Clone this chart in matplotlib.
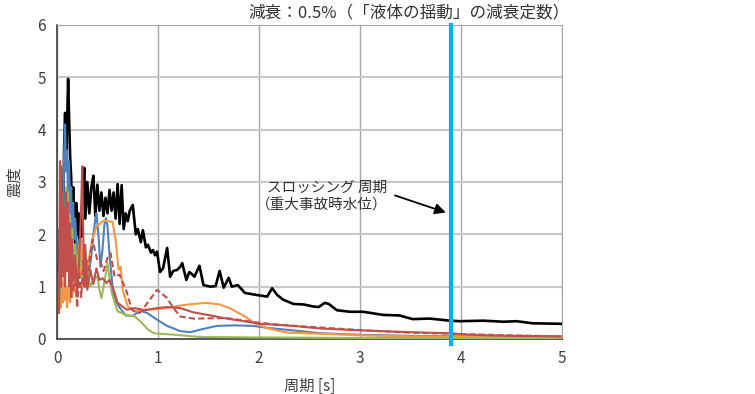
import numpy as np
import matplotlib.pyplot as plt

plt.rcParams['font.family'] = ['Noto Sans CJK JP', 'DejaVu Sans']

# ---- response spectra (period [s] vs. seismic coefficient) ----
black_T = [0.02, 0.03, 0.04, 0.05, 0.06, 0.07, 0.08, 0.09, 0.10, 0.11, 0.12, 0.13, 0.14, 0.15,
           0.16, 0.17, 0.18, 0.19, 0.20, 0.21, 0.22, 0.23, 0.24, 0.25, 0.26, 0.27, 0.28, 0.30,
           0.32, 0.34, 0.36, 0.38, 0.40, 0.42, 0.44, 0.46, 0.48, 0.50, 0.52, 0.54, 0.56, 0.58,
           0.60, 0.62, 0.64, 0.66, 0.68, 0.70, 0.72, 0.75, 0.78, 0.80, 0.83, 0.85, 0.88, 0.90,
           0.93, 0.95, 0.97, 0.99, 1.02, 1.05, 1.09, 1.12, 1.15, 1.19, 1.22, 1.24, 1.28, 1.31,
           1.33, 1.36, 1.41, 1.45, 1.52, 1.57, 1.61, 1.65, 1.70, 1.73, 1.79, 1.86, 1.98, 2.08,
           2.13, 2.18, 2.24, 2.34, 2.44, 2.54, 2.59, 2.65, 2.69, 2.77, 2.90, 3.03, 3.23, 3.39,
           3.52, 3.69, 3.89, 3.99, 4.22, 4.42, 4.55, 4.71, 5.00]
black_S = [1.30, 2.10, 1.60, 2.60, 2.20, 3.60, 4.32, 3.50, 4.10, 4.97, 4.20, 3.48, 3.10, 2.20,
           2.90, 2.00, 1.84, 2.60, 2.00, 2.41, 1.80, 2.30, 1.95, 2.60, 3.00, 3.27, 2.30, 3.00,
           2.40, 2.90, 3.12, 2.35, 2.95, 2.45, 2.80, 2.35, 2.70, 2.40, 2.85, 2.45, 2.80, 2.30,
           2.96, 2.20, 2.94, 2.10, 2.40, 2.25, 2.45, 2.56, 2.00, 2.10, 1.85, 2.08, 1.75, 1.80,
           1.65, 1.70, 1.60, 1.67, 1.28, 1.35, 1.74, 1.19, 1.30, 1.32, 1.38, 1.45, 1.13, 1.28,
           1.25, 1.19, 1.40, 1.03, 1.00, 1.01, 1.30, 0.98, 1.17, 1.00, 1.03, 0.88, 0.84, 0.81,
           0.97, 0.84, 0.75, 0.67, 0.66, 0.62, 0.61, 0.69, 0.67, 0.55, 0.52, 0.52, 0.46, 0.45,
           0.38, 0.39, 0.35, 0.34, 0.35, 0.33, 0.34, 0.30, 0.29]

blue_T = [0.02, 0.03, 0.04, 0.05, 0.06, 0.07, 0.08, 0.09, 0.10, 0.11, 0.12, 0.13, 0.14, 0.15,
          0.16, 0.17, 0.18, 0.20, 0.22, 0.24, 0.26, 0.28, 0.30, 0.32, 0.34, 0.36, 0.38, 0.39,
          0.41, 0.43, 0.45, 0.47, 0.485, 0.50, 0.52, 0.55, 0.57, 0.62, 0.68, 0.75, 0.82, 0.89,
          0.99, 1.09, 1.22, 1.32, 1.42, 1.58, 1.75, 1.94, 2.10, 2.41, 2.61, 3.0, 3.5, 4.0, 4.5, 5.0]
blue_S = [1.0, 1.8, 1.3, 2.2, 1.8, 3.5, 4.10, 3.2, 3.6, 2.6, 3.4, 2.4, 2.9, 2.1,
          2.6, 1.9, 2.3, 1.6, 1.9, 1.4, 1.7, 1.2, 1.5, 1.3, 1.6, 2.0, 2.3, 2.40,
          2.0, 1.38, 1.7, 2.2, 2.31, 2.15, 1.6, 1.0, 0.75, 0.60, 0.45, 0.44, 0.54, 0.50,
          0.37, 0.25, 0.15, 0.13, 0.18, 0.25, 0.26, 0.25, 0.21, 0.15, 0.11, 0.08, 0.06, 0.05, 0.05, 0.04]

orange_T = [0.02, 0.03, 0.04, 0.05, 0.06, 0.07, 0.08, 0.09, 0.10, 0.11, 0.12, 0.13, 0.14, 0.15,
            0.16, 0.17, 0.18, 0.19, 0.20, 0.21, 0.22, 0.23, 0.24, 0.25, 0.26, 0.27, 0.28, 0.30,
            0.32, 0.35, 0.39, 0.46, 0.50, 0.55, 0.58, 0.61, 0.63, 0.65, 0.70, 0.77, 0.87, 0.99,
            1.09, 1.22, 1.35, 1.48, 1.61, 1.72, 1.86, 1.96, 2.09, 2.29, 2.61, 3.0, 3.5, 4.0, 4.5, 5.0]
orange_S = [0.5, 0.9, 0.6, 1.1, 0.7, 1.2, 0.75, 1.0, 0.6, 0.9, 1.1, 0.7, 1.2, 0.8,
            1.5, 0.9, 1.3, 0.8, 1.6, 1.0, 1.8, 1.2, 1.9, 1.0, 1.7, 1.2, 1.45, 1.13,
            1.6, 1.9, 2.15, 2.26, 2.25, 2.24, 1.89, 1.32, 1.38, 0.94, 0.62, 0.53, 0.56, 0.57,
            0.59, 0.64, 0.67, 0.69, 0.66, 0.58, 0.43, 0.30, 0.20, 0.12, 0.10, 0.07, 0.05, 0.04, 0.03, 0.03]

green_T = [0.02, 0.03, 0.04, 0.05, 0.06, 0.07, 0.08, 0.09, 0.10, 0.11, 0.12, 0.13, 0.14, 0.15,
           0.16, 0.18, 0.20, 0.22, 0.24, 0.26, 0.28, 0.30, 0.33, 0.36, 0.40, 0.42, 0.44, 0.47,
           0.50, 0.51, 0.54, 0.57, 0.60, 0.68, 0.77, 0.84, 0.90, 0.96, 1.10, 1.24, 1.40, 2.0,
           3.0, 4.0, 5.0]
green_S = [0.7, 1.2, 0.9, 1.8, 1.3, 2.4, 2.0, 2.9, 2.3, 2.8, 2.0, 2.3, 1.6, 2.1,
           1.4, 1.8, 1.2, 1.6, 1.45, 1.1, 1.07, 1.3, 1.0, 1.13, 1.2, 0.94, 0.78, 1.1,
           1.45, 1.29, 0.9, 0.7, 0.53, 0.46, 0.43, 0.31, 0.18, 0.11, 0.09, 0.07, 0.04, 0.03,
           0.02, 0.02, 0.02]

red_T = [0.02, 0.03, 0.04, 0.05, 0.06, 0.07, 0.08, 0.09, 0.10, 0.11, 0.12, 0.13, 0.14, 0.15,
         0.16, 0.18, 0.20, 0.22, 0.24, 0.25, 0.26, 0.27, 0.28, 0.30, 0.33, 0.36, 0.39, 0.42,
         0.45, 0.49, 0.52, 0.56, 0.60, 0.69, 0.77, 0.87, 0.99, 1.09, 1.22, 1.35, 1.52, 1.68,
         1.85, 2.01, 2.34, 2.61, 3.07, 3.50, 3.88, 4.10, 4.50, 5.0]
red_S = [0.5, 3.4, 1.0, 2.8, 1.2, 2.5, 1.0, 2.8, 1.3, 2.6, 1.0, 2.2, 0.8, 1.9,
         1.1, 1.6, 0.9, 1.5, 2.6, 3.3, 2.0, 1.0, 1.8, 0.94, 1.32, 1.05, 1.35, 1.13,
         1.16, 1.07, 1.13, 0.94, 0.69, 0.56, 0.59, 0.55, 0.59, 0.61, 0.59, 0.51, 0.45, 0.39,
         0.34, 0.29, 0.25, 0.20, 0.16, 0.13, 0.11, 0.08, 0.06, 0.05]

redd_T = [0.02, 0.03, 0.04, 0.05, 0.06, 0.08, 0.10, 0.12, 0.14, 0.16, 0.18, 0.20, 0.22, 0.24,
          0.26, 0.28, 0.30, 0.35, 0.40, 0.43, 0.46, 0.50, 0.53, 0.57, 0.62, 0.69, 0.74, 0.79,
          0.82, 0.90, 0.99, 1.08, 1.17, 1.22, 1.35, 1.68, 1.96, 2.16, 2.43, 2.61, 3.0, 3.5,
          3.9, 4.5, 5.0]
redd_S = [0.6, 2.0, 3.3, 1.2, 2.6, 1.2, 2.2, 1.4, 1.8, 0.9, 1.3, 0.6, 1.3, 0.8,
          1.5, 1.0, 1.2, 1.9, 1.5, 1.47, 1.3, 1.55, 1.64, 1.19, 1.23, 0.90, 0.56, 0.50,
          0.50, 0.70, 0.94, 0.80, 0.55, 0.43, 0.39, 0.40, 0.32, 0.28, 0.24, 0.22, 0.17, 0.12,
          0.10, 0.07, 0.05]

slosh_T = 3.9   # sloshing period at severe-accident water level

fig = plt.figure(figsize=(7.55, 3.94), dpi=100)
ax = fig.add_axes([0.0755, 0.1396, 0.669, 0.797])

ax.plot(black_T, black_S, color="black", lw=1.9, zorder=3)
ax.plot(blue_T, blue_S, color="#4f81bd", lw=1.5, zorder=4)
ax.plot(orange_T, orange_S, color="#f79646", lw=1.5, zorder=4)
ax.plot(green_T, green_S, color="#9bbb59", lw=1.5, zorder=4)
ax.plot(redd_T, redd_S, color="#c0504d", lw=1.5, dashes=(3, 1.5), zorder=5)
ax.plot(red_T, red_S, color="#c0504d", lw=1.5, zorder=5)

ax.axvline(slosh_T, ymin=-0.015, color="#00b0f0", lw=3, zorder=6, clip_on=False)

ax.annotate("", xy=(3.875, 2.40), xytext=(3.32, 2.76),
            arrowprops=dict(arrowstyle="-|>", color="black", lw=1.3, mutation_scale=16),
            zorder=7)
ax.text(3.27, 2.42, "スロッシング 周期\n（重大事故時水位）", ha="right", va="bottom",
        fontsize=10.5, color="#333333", linespacing=1.35)

ax.set_xlim(0, 5)
ax.set_ylim(0, 6)
ax.set_xticks([0, 1, 2, 3, 4, 5])
ax.set_yticks([0, 1, 2, 3, 4, 5, 6])
ax.grid(True, axis="y", color="#c8c8c8", lw=1.5)
ax.grid(True, axis="x", color="#a6a6a6", lw=1.0)
ax.set_axisbelow(True)
ax.tick_params(length=0, labelsize=11, colors="#404040", pad=8)
for side in ["left", "bottom"]:
    ax.spines[side].set_color("#404040")
    ax.spines[side].set_linewidth(1.2)
for side in ["top", "right"]:
    ax.spines[side].set_color("#a6a6a6")

ax.set_xlabel("周期 [s]", fontsize=11, color="#404040", labelpad=8)
ax.set_ylabel("震度", fontsize=11, color="#404040", labelpad=10)

fig.text(409 / 755, 1 - 13 / 394, "減衰：0.5%（「液体の揺動」の減衰定数）",
         ha="center", va="center", fontsize=12, color="#333333")

fig.savefig("out.png", dpi=100)
